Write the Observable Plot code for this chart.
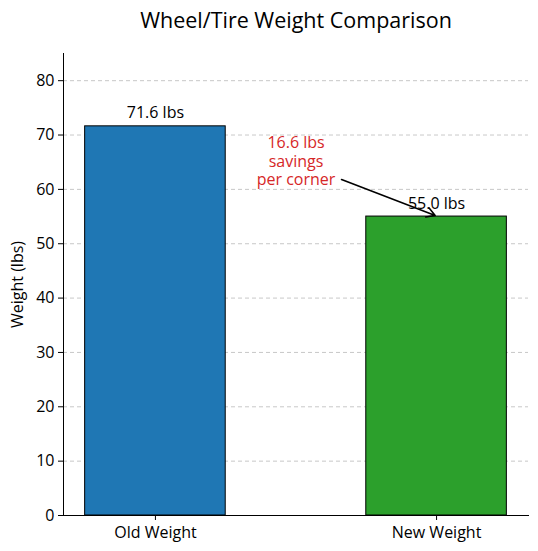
<!DOCTYPE html>
<html><head><meta charset="utf-8">
<script src="https://cdn.jsdelivr.net/npm/d3@7"></script>
<script src="https://cdn.jsdelivr.net/npm/@observablehq/plot@0.6"></script>
<style>body{margin:0;background:#fff;font-family:"Open Sans",sans-serif;}</style>
</head><body><div id="chart"></div>
<script>
const categories = ["Old Weight", "New Weight"];
const weights = [71.6, 55.0];
const barColors = ["#1f77b4", "#2ca02c"];
const yTicks = [0, 10, 20, 30, 40, 50, 60, 70, 80];
const annotationLines = ["16.6 lbs", "savings", "per corner"];
const annotationAt = {x: 0.5, y: 65.3};
const arrowFrom = {x: 0.662, y: 61.8};
const arrowTo = {x: 0.995, y: 55.2};

const data = categories.map((c, i) => ({cat: c, i, value: weights[i], color: barColors[i]}));
const font = "'Open Sans', sans-serif";

const chart = Plot.plot({
  width: 538, height: 551,
  marginLeft: 63, marginRight: 10, marginTop: 53, marginBottom: 36,
  style: {fontFamily: font, fontSize: "16px", color: "#000", background: "#fff"},
  x: {domain: [-0.327, 1.327], axis: null},
  y: {domain: [0, 85], axis: null},
  marks: [
    Plot.gridY(yTicks.filter(t => t > 0), {stroke: "#b0b0b0", strokeOpacity: 0.7, strokeDasharray: "4,3"}),
    Plot.rectY(data, {x1: d => d.i - 0.25, x2: d => d.i + 0.25, y1: 0, y2: "value", fill: "color", stroke: "#000", strokeWidth: 1}),
    Plot.axisY(yTicks, {tickSize: 5, tickPadding: 4, fontSize: 16, label: "Weight (lbs)", labelAnchor: "center", labelArrow: "none", labelOffset: 52}),
    Plot.axisX([0, 1], {tickSize: 5, tickPadding: 6, fontSize: 16, tickFormat: i => categories[i], label: null}),
    Plot.frame({anchor: "left"}),
    Plot.frame({anchor: "bottom"}),
    Plot.text(data, {x: "i", y: "value", text: d => d.value.toFixed(1) + " lbs", lineAnchor: "bottom", dy: -8, fontSize: 16, fill: "#000"}),
    Plot.text([annotationLines.join("\n")], {x: annotationAt.x, y: annotationAt.y, text: d => d, fill: "#d62728", fontSize: 16, lineHeight: 1.18, lineAnchor: "middle"}),
    Plot.arrow([0], {x1: arrowFrom.x, y1: arrowFrom.y, x2: arrowTo.x, y2: arrowTo.y, stroke: "#000", strokeWidth: 1.6, headLength: 9, bend: 0}),
    Plot.text(["Wheel/Tire Weight Comparison"], {frameAnchor: "top", text: d => d, dy: -41, fontSize: 21.5, fill: "#000"})
  ]
});
document.getElementById("chart").appendChild(chart);
</script></body></html>
